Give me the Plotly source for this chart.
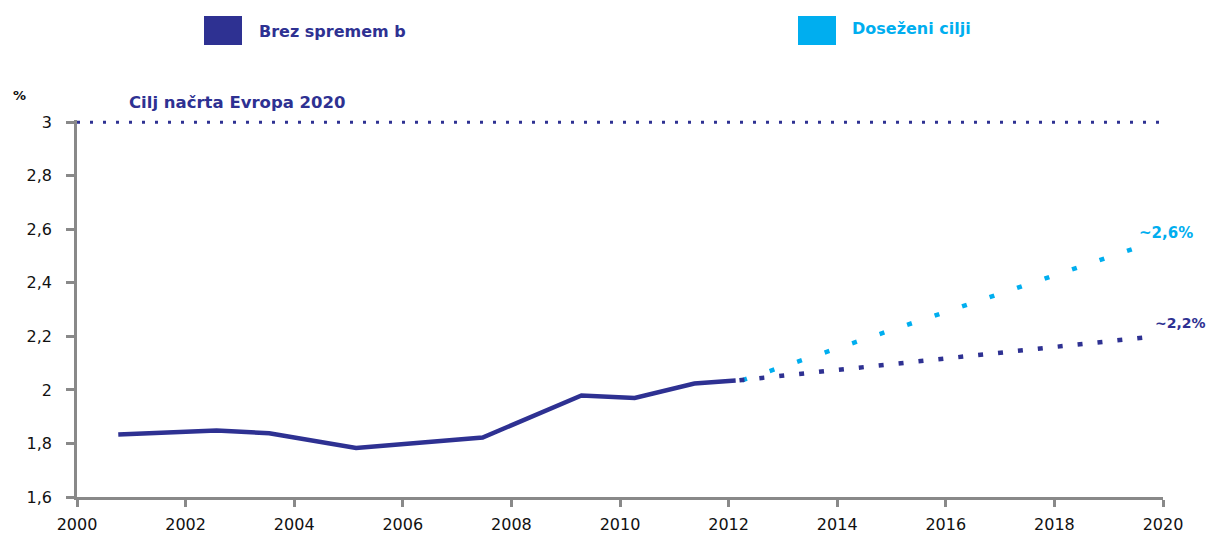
import plotly.graph_objects as go

# ---- data ----
hist_years = [2000.76, 2002.57, 2003.54, 2005.14, 2007.47, 2009.29, 2010.27, 2011.37, 2012.13]
hist_values = [1.833, 1.848, 1.838, 1.783, 1.822, 1.979, 1.970, 2.024, 2.035]

base_years = [2012.2, 2019.85]
base_values = [2.036, 2.200]

goal_years = [2012.25, 2019.5]
goal_values = [2.036, 2.530]

target_years = [2000, 2020]
target_values = [3.0, 3.0]

x_ticks = list(range(2000, 2021, 2))
y_ticks = [1.6, 1.8, 2.0, 2.2, 2.4, 2.6, 2.8, 3.0]
y_ticktext = ["1,6", "1,8", "2", "2,2", "2,4", "2,6", "2,8", "3"]

DARK = "#2E3192"
CYAN = "#00AEEF"
AXIS = "#898989"
FONT = "DejaVu Sans"

# page offset (browser body margin)
OFF = 8
W, H = 1215, 537
plot_left, plot_top = 77, 120      # target page pixels
plot_w, plot_h = 1086, 377

fig = go.Figure()

fig.add_trace(go.Scatter(x=target_years, y=target_values, mode="lines",
                         line=dict(color=DARK, width=3, dash="3px,10px"),
                         showlegend=False, hoverinfo="skip"))
fig.add_trace(go.Scatter(x=goal_years, y=goal_values, mode="lines",
                         line=dict(color=CYAN, width=4.5, dash="5px,24px"),
                         showlegend=False))
fig.add_trace(go.Scatter(x=base_years, y=base_values, mode="lines",
                         line=dict(color=DARK, width=4.5, dash="5px,15px"),
                         showlegend=False))
fig.add_trace(go.Scatter(x=hist_years, y=hist_values, mode="lines",
                         line=dict(color=DARK, width=4.5),
                         showlegend=False))


def ppx(px):
    return (px - plot_left) / plot_w


def paper_y(py):
    return (plot_top + plot_h - py) / plot_h


fig.add_shape(type="rect", xref="paper", yref="paper",
              x0=ppx(204), x1=ppx(242), y0=paper_y(45), y1=paper_y(16),
              fillcolor=DARK, line=dict(width=0))
fig.add_shape(type="rect", xref="paper", yref="paper",
              x0=ppx(798), x1=ppx(836), y0=paper_y(45), y1=paper_y(16),
              fillcolor=CYAN, line=dict(width=0))

annos = [
    dict(text="<b>Brez spremem b</b>", x=ppx(257), y=paper_y(31), color=DARK, size=16),
    dict(text="<b>Doseženi cilji</b>", x=ppx(850), y=paper_y(29), color=CYAN, size=16),
    dict(text="<b>Cilj načrta Evropa 2020</b>", x=ppx(127), y=paper_y(103), color=DARK, size=16.5),
    dict(text="<b>%</b>", x=ppx(11), y=paper_y(95), color="#111111", size=13),
    dict(text="<b>~2,6%</b>", x=ppx(1137), y=paper_y(233), color=CYAN, size=15),
    dict(text="<b>~2,2%</b>", x=ppx(1153), y=paper_y(323), color=DARK, size=14),
]
for a in annos:
    fig.add_annotation(text=a["text"], x=a["x"], y=a["y"], xref="paper", yref="paper",
                       xanchor="left", yanchor="middle", showarrow=False,
                       font=dict(family=FONT, size=a["size"], color=a["color"]))

ml = plot_left - OFF
mt = plot_top - OFF
fig.update_layout(
    width=W, height=H,
    margin=dict(l=ml, r=W - ml - plot_w, t=mt, b=H - mt - plot_h),
    plot_bgcolor="white", paper_bgcolor="white",
    font=dict(family=FONT, size=16, color="#111111"),
    showlegend=False,
)
fig.update_xaxes(range=[2000, 2020], tickvals=x_ticks, showgrid=False, zeroline=False,
                 showline=True, linecolor=AXIS, linewidth=2.5,
                 ticks="outside", ticklen=7, tickwidth=2.5, tickcolor=AXIS,
                 ticklabelstandoff=4,
                 tickfont=dict(family=FONT, size=16, color="#111111"))
fig.update_yaxes(range=[1.6, 3.008], tickvals=y_ticks, ticktext=y_ticktext,
                 showgrid=False, zeroline=False,
                 showline=True, linecolor=AXIS, linewidth=2.5,
                 ticks="outside", ticklen=8, tickwidth=2.5, tickcolor=AXIS,
                 ticklabelstandoff=11,
                 tickfont=dict(family=FONT, size=16, color="#111111"))

fig.write_html("out.html")
